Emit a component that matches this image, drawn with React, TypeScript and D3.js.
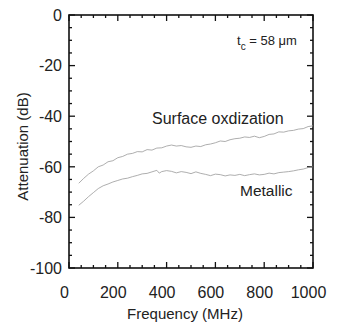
import React, { useEffect, useRef } from 'react';
import * as d3 from 'd3';

const W = 339;
const H = 324;

// Surface oxidization curve (MHz, dB)
const oxFreq = [40, 60, 80, 100, 120, 140, 160, 180, 200, 220, 240, 260, 280, 300, 320, 340, 360, 380, 400, 420, 440, 460, 480, 500, 520, 540, 560, 580, 600, 620, 640, 660, 680, 700, 720, 740, 760, 780, 800, 820, 840, 860, 880, 900, 920, 940, 960, 980, 1000];
const oxDb = [-66.5, -64.6, -62.9, -61.6, -60.0, -59.3, -58.0, -57.6, -56.4, -55.9, -55.0, -54.7, -54.0, -54.1, -53.2, -53.4, -52.6, -52.5, -51.8, -51.4, -51.8, -51.6, -52.1, -52.3, -51.8, -52.0, -51.3, -51.0, -50.5, -49.8, -50.0, -49.3, -48.9, -48.7, -48.2, -48.4, -47.9, -48.5, -48.0, -47.2, -47.0, -46.2, -46.3, -45.8, -45.6, -45.1, -44.9, -44.1, -43.8];

// Metallic curve (MHz, dB)
const metFreq = [40, 60, 80, 100, 120, 140, 160, 180, 200, 220, 240, 260, 280, 300, 320, 340, 360, 370, 380, 400, 420, 440, 460, 480, 500, 520, 540, 560, 580, 600, 620, 640, 660, 680, 700, 720, 740, 760, 780, 800, 820, 840, 860, 880, 900, 920, 940, 960, 980, 1000];
const metDb = [-75.2, -73.6, -71.8, -70.2, -68.6, -67.5, -66.8, -66.0, -65.4, -64.8, -64.5, -63.9, -63.4, -62.8, -62.6, -62.0, -61.4, -62.5, -61.9, -61.5, -61.8, -62.4, -61.9, -62.2, -62.7, -62.0, -62.6, -63.0, -63.5, -62.9, -63.1, -63.6, -63.2, -63.4, -63.0, -63.5, -63.1, -62.8, -63.2, -63.0, -62.5, -62.8, -62.3, -62.1, -61.9, -61.6, -61.2, -60.9, -60.3, -60.0];

const xTicks = [0, 200, 400, 600, 800, 1000];
const yTicks = [0, -20, -40, -60, -80, -100];

const FONT = '"Liberation Sans", Arial, sans-serif';

const App: React.FC = () => {
  const svgRef = useRef<SVGSVGElement>(null);

  useEffect(() => {
    if (!svgRef.current) return;
    const svg = d3.select(svgRef.current);
    svg.selectAll('*').remove();

    const margin = { top: 15, right: 26, bottom: 56, left: 69 };
    const iw = W - margin.left - margin.right;
    const ih = H - margin.top - margin.bottom;

    const x = d3.scaleLinear().domain([0, 1000]).range([0, iw]);
    const y = d3.scaleLinear().domain([-100, 0]).range([ih, 0]);

    const g = svg.append('g').attr('transform', `translate(${margin.left},${margin.top})`);

    const minorX = d3.range(0, 1001, 50);
    const minorY = d3.range(-100, 1, 5);

    // inward ticks on all four sides
    const tickG = g.append('g').attr('stroke', '#111').attr('stroke-width', 1.3);
    minorX.forEach(v => {
      const len = v % 200 === 0 ? 6 : 3;
      tickG.append('line').attr('x1', x(v)).attr('x2', x(v)).attr('y1', ih).attr('y2', ih - len);
      tickG.append('line').attr('x1', x(v)).attr('x2', x(v)).attr('y1', 0).attr('y2', len);
    });
    minorY.forEach(v => {
      const len = v % 20 === 0 ? 6 : 3;
      tickG.append('line').attr('y1', y(v)).attr('y2', y(v)).attr('x1', 0).attr('x2', len);
      tickG.append('line').attr('y1', y(v)).attr('y2', y(v)).attr('x1', iw).attr('x2', iw - len);
    });

    g.append('rect')
      .attr('width', iw)
      .attr('height', ih)
      .attr('fill', 'none')
      .attr('stroke', '#111')
      .attr('stroke-width', 1.6);

    // tick labels
    g.selectAll('.xl')
      .data(xTicks)
      .enter()
      .append('text')
      .attr('x', d => x(d) - 4.5)
      .attr('y', ih + 30)
      .attr('text-anchor', 'middle')
      .style('font-family', FONT)
      .style('font-size', '16px')
      .style('fill', '#222')
      .text(d => d);

    g.selectAll('.yl')
      .data(yTicks)
      .enter()
      .append('text')
      .attr('x', -7)
      .attr('y', d => y(d))
      .attr('dy', '0.36em')
      .attr('text-anchor', 'end')
      .style('font-family', FONT)
      .style('font-size', '16px')
      .style('fill', '#222')
      .text(d => d);

    // axis titles
    svg.append('text')
      .attr('x', margin.left + iw / 2 - 6)
      .attr('y', 319)
      .attr('text-anchor', 'middle')
      .style('font-family', FONT)
      .style('font-size', '15px')
      .style('fill', '#222')
      .text('Frequency (MHz)');

    svg.append('text')
      .attr('transform', `translate(28,${margin.top + ih / 2 + 5}) rotate(-90)`)
      .attr('text-anchor', 'middle')
      .style('font-family', FONT)
      .style('font-size', '15px')
      .style('fill', '#222')
      .text('Attenuation (dB)');

    // curves
    const line = d3.line<[number, number]>()
      .x(d => x(d[0]))
      .y(d => y(d[1]));

    const ox = oxFreq.map((f, i) => [f, oxDb[i]] as [number, number]);
    const met = metFreq.map((f, i) => [f, metDb[i]] as [number, number]);

    [ox, met].forEach(data => {
      g.append('path')
        .datum(data)
        .attr('fill', 'none')
        .attr('stroke', '#999')
        .attr('stroke-width', 0.8)
        .attr('d', line);
    });

    // annotations
    const tc = svg.append('text')
      .attr('x', 237)
      .attr('y', 45)
      .style('font-family', FONT)
      .style('font-size', '13px')
      .style('fill', '#222');
    tc.append('tspan').text('t');
    tc.append('tspan').attr('dy', 5).style('font-size', '10px').text('c');
    tc.append('tspan').attr('dy', -5).text(' = 58 \u03bcm');

    svg.append('text')
      .attr('x', 152)
      .attr('y', 124)
      .style('font-family', FONT)
      .style('font-size', '16px')
      .style('fill', '#222')
      .text('Surface oxdization');

    svg.append('text')
      .attr('x', 240)
      .attr('y', 196)
      .style('font-family', FONT)
      .style('font-size', '15.5px')
      .style('fill', '#222')
      .text('Metallic');
  }, []);

  return (
    <div style={{ position: 'fixed', left: 0, top: 0 }}>
      <svg ref={svgRef} width={W} height={H} style={{ display: 'block', background: '#fff' }} />
    </div>
  );
};

export default App;
